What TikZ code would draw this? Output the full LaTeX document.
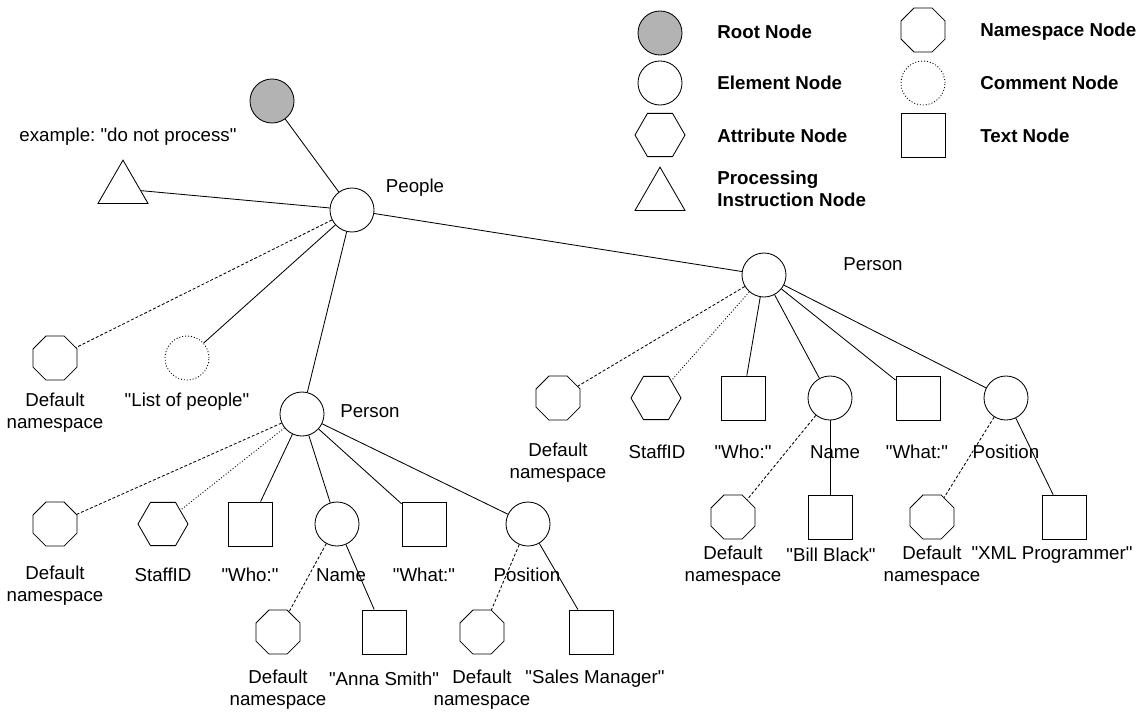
\documentclass[tikz,border=0pt]{standalone}
\usepackage{fontspec}
\setmainfont{Liberation Sans}
\usetikzlibrary{shapes.geometric}
\definecolor{rootgray}{RGB}{179,179,179}
\newcommand{\lblfont}{\fontsize{13.3}{15.6}\selectfont\frenchspacing}
\newcommand{\qt}[1]{\textquotedbl#1\textquotedbl}

\begin{document}
\begin{tikzpicture}[x=0.025cm, y=-0.025cm, line width=0.6pt,
    elem/.style={circle, draw, inner sep=0pt, minimum size=1.1cm},
    rootnode/.style={elem, fill=rootgray},
    commentnode/.style={elem, dash pattern=on 0.7pt off 1.4pt},
    nsnode/.style={regular polygon, regular polygon sides=8, draw, inner sep=0pt, minimum size=1.19cm},
    attrnode/.style={regular polygon, regular polygon sides=6, draw, inner sep=0pt, minimum size=1.25cm},
    pinode/.style={regular polygon, regular polygon sides=3, draw, inner sep=0pt, minimum size=1.443cm},
    textnode/.style={rectangle, draw, inner sep=0pt, minimum width=1.1cm, minimum height=1.1cm},
    lbl/.style={font=\lblfont, align=center, inner sep=0pt},
    legendlbl/.style={font=\lblfont\bfseries, align=left, anchor=west, inner sep=0pt},
    nsedge/.style={dash pattern=on 2.1pt off 1.4pt},
    attredge/.style={dash pattern=on 0.7pt off 1.4pt}]
  \useasboundingbox (0,0) rectangle (1143,711);

  % Legend
  \node[rootnode] (lroot) at (660,33) {};
  \node[elem] (lelem) at (660,83) {};
  \node[attrnode] (lattr) at (660,135) {};
  \node[pinode] (lpi) at (660,196) {};
  \node[legendlbl] (lrootlbl) at (717,32) {Root Node};
  \node[legendlbl] (lelemlbl) at (717,83) {Element Node};
  \node[legendlbl] (lattrlbl) at (717,136) {Attribute Node};
  \node[legendlbl] (lpilbl) at (717,189) {Processing\\Instruction Node};
  \node[nsnode] (lns) at (923,30) {};
  \node[commentnode] (lcomment) at (923,83) {};
  \node[textnode] (ltext) at (923,135) {};
  \node[legendlbl] (lnslbl) at (980,32) {Namespace Node};
  \node[legendlbl] (lcommentlbl) at (980,83) {Comment Node};
  \node[legendlbl] (ltextlbl) at (980,136) {Text Node};

  % Root and People element
  \node[rootnode] (root) at (272,101) {};
  \node[elem] (people) at (352,210) {};
  \node[lbl] (peoplelbl) at (415,188) {People};
  \node[pinode] (pi) at (123,189) {};
  \node[lbl] (pilbl) at (128,137) {example: \qt{do not process}};
  \node[nsnode] (peoplens) at (55,358) {};
  \node[lbl] (peoplenslbl) at (55,413) {Default\\namespace};
  \node[commentnode] (comment) at (187,358) {};
  \node[lbl] (commentlbl) at (187,402) {\qt{List of people}};

  \draw (root) -- (people);
  \draw (pi) -- (people);
  \draw[nsedge] (people) -- (peoplens);
  \draw (people) -- (comment);

  % first Person
  \node[elem] (pa) at (302,414) {};
  \node[lbl] (palbl) at (370,411) {Person};
  \node[nsnode] (pans) at (55,524) {};
  \node[attrnode] (paid) at (163,524) {};
  \node[textnode] (pawho) at (250,524) {};
  \node[elem] (paname) at (337,524) {};
  \node[textnode] (pawhat) at (424,524) {};
  \node[elem] (papos) at (528,524) {};
  \node[lbl] (panslbl) at (55,586) {Default\\namespace};
  \node[lbl] (paidlbl) at (163,575) {StaffID};
  \node[lbl] (pawholbl) at (250,575) {\qt{Who:}};
  \node[lbl] (panamelbl) at (341,575) {Name};
  \node[lbl] (pawhatlbl) at (424,575) {\qt{What:}};
  \node[lbl] (paposlbl) at (527,575) {Position};
  \node[nsnode] (panamens) at (278,632) {};
  \node[textnode] (panametext) at (384,632) {};
  \node[nsnode] (paposns) at (482,632) {};
  \node[textnode] (papostext) at (591,632) {};
  \node[lbl] (panamenslbl) at (278,690) {Default\\namespace};
  \node[lbl] (panametextlbl) at (384,679) {\qt{Anna Smith}};
  \node[lbl] (paposnslbl) at (482,690) {Default\\namespace};
  \node[lbl] (papostextlbl) at (595,679) {\qt{Sales Manager}};

  \draw (people) -- (pa);
  \draw[nsedge] (pa) -- (pans);
  \draw[attredge] (pa) -- (paid);
  \draw (pa) -- (pawho);
  \draw (pa) -- (paname);
  \draw (pa) -- (pawhat);
  \draw (pa) -- (papos);
  \draw[nsedge] (paname) -- (panamens);
  \draw (paname) -- (panametext);
  \draw[nsedge] (papos) -- (paposns);
  \draw (papos) -- (papostext);

  % second Person
  \node[elem] (pb) at (764,275) {};
  \node[lbl] (pblbl) at (873,264) {Person};
  \node[nsnode] (pbns) at (558,398) {};
  \node[attrnode] (pbid) at (656,398) {};
  \node[textnode] (pbwho) at (743,398) {};
  \node[elem] (pbname) at (830,398) {};
  \node[textnode] (pbwhat) at (918,398) {};
  \node[elem] (pbpos) at (1006,398) {};
  \node[lbl] (pbnslbl) at (558,463) {Default\\namespace};
  \node[lbl] (pbidlbl) at (657,452) {StaffID};
  \node[lbl] (pbwholbl) at (743,452) {\qt{Who:}};
  \node[lbl] (pbnamelbl) at (835,452) {Name};
  \node[lbl] (pbwhatlbl) at (917,452) {\qt{What:}};
  \node[lbl] (pbposlbl) at (1006,452) {Position};
  \node[nsnode] (pbnamens) at (733,517) {};
  \node[textnode] (pbnametext) at (830,517) {};
  \node[nsnode] (pbposns) at (932,517) {};
  \node[textnode] (pbpostext) at (1064,517) {};
  \node[lbl] (pbnamenslbl) at (733,566) {Default\\namespace};
  \node[lbl] (pbnametextlbl) at (831,555) {\qt{Bill Black}};
  \node[lbl] (pbposnslbl) at (932,566) {Default\\namespace};
  \node[lbl] (pbpostextlbl) at (1052,555) {\qt{XML Programmer}};

  \draw (people) -- (pb);
  \draw[nsedge] (pb) -- (pbns);
  \draw[attredge] (pb) -- (pbid);
  \draw (pb) -- (pbwho);
  \draw (pb) -- (pbname);
  \draw (pb) -- (pbwhat);
  \draw (pb) -- (pbpos);
  \draw[nsedge] (pbname) -- (pbnamens);
  \draw (pbname) -- (pbnametext);
  \draw[nsedge] (pbpos) -- (pbposns);
  \draw (pbpos) -- (pbpostext);
\end{tikzpicture}
\end{document}
